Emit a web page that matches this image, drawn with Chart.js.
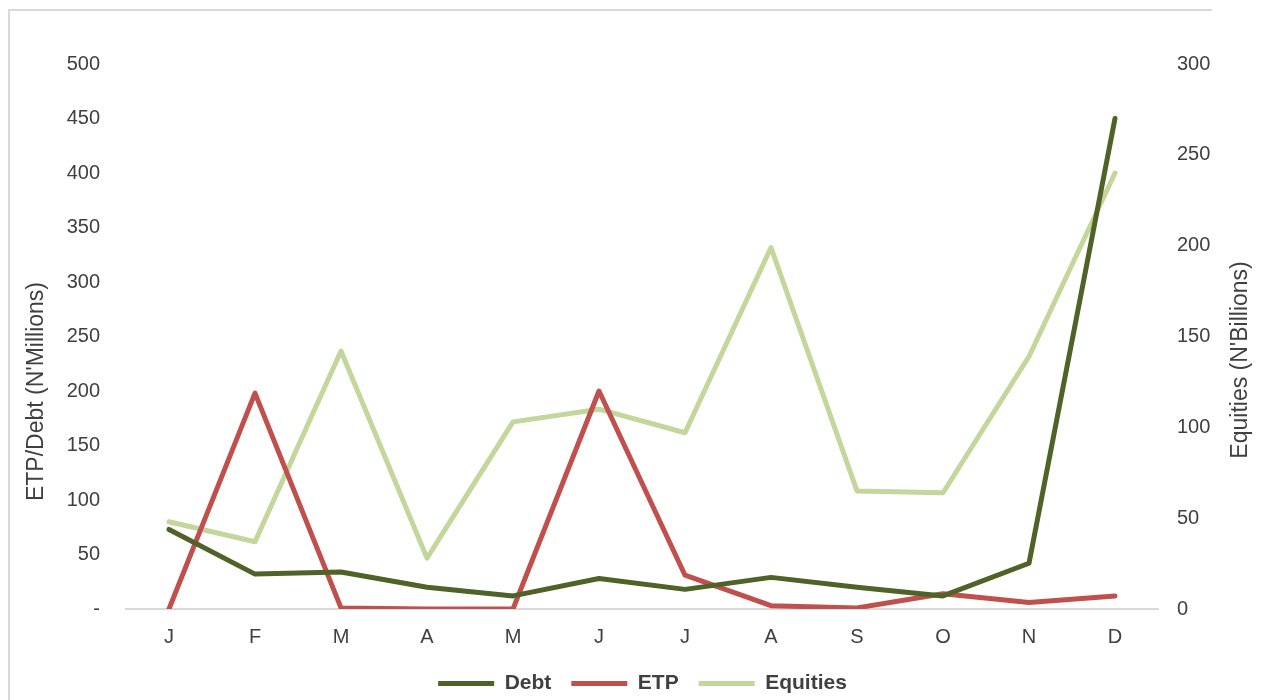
<!DOCTYPE html>
<html>
<head>
<meta charset="utf-8">
<script src="https://cdn.jsdelivr.net/npm/chart.js@4.4.1/dist/chart.umd.min.js"></script>
<style>
  html, body { margin: 0; padding: 0; background: #ffffff; }
  #wrap { position: relative; width: 1263px; height: 700px; overflow: hidden; }
  #frame { position: absolute; left: 8px; top: 9px; width: 1204px; height: 720px;
           border-top: 2px solid #d9d9d9; border-left: 2px solid #d9d9d9; box-sizing: border-box; }
  canvas { position: absolute; left: 0; top: 0; }
</style>
</head>
<body>
<div id="wrap">
  <div id="frame"></div>
  <canvas id="c" width="1263" height="700"></canvas>
</div>
<script>
const months = ['J', 'F', 'M', 'A', 'M', 'J', 'J', 'A', 'S', 'O', 'N', 'D'];
const debt = [73, 32, 34, 20, 12, 28, 18, 29, 20, 12, 42, 450];
const etp = [0, 198, 1, 0, 0, 200, 31, 3, 1, 14, 6, 12];
const equities = [48, 37, 142, 28, 103, 110, 97, 199, 65, 64, 139, 240];
const leftTitle = "ETP/Debt (N'Millions)";
const rightTitle = "Equities (N'Billions)";

const FONT = "'Liberation Sans', Arial, sans-serif";
const TXT = '#404040';

const axisTitles = {
  id: 'axisTitles',
  afterDraw(chart) {
    const ctx = chart.ctx;
    const ca = chart.chartArea;
    ctx.save();
    ctx.fillStyle = TXT;
    ctx.font = '23px ' + FONT;
    ctx.textAlign = 'center';
    ctx.textBaseline = 'middle';
    ctx.save();
    ctx.translate(37, ca.top + (ca.bottom - ca.top) * 0.601);
    ctx.rotate(-Math.PI / 2);
    ctx.fillText(leftTitle, 0, 0);
    ctx.restore();
    ctx.save();
    ctx.translate(1241, ca.top + (ca.bottom - ca.top) * 0.543);
    ctx.rotate(-Math.PI / 2);
    ctx.fillText(rightTitle, 0, 0);
    ctx.restore();
    ctx.restore();
  }
};

const lineStyle = (color) => ({
  borderColor: color,
  backgroundColor: color,
  borderWidth: 5,
  borderCapStyle: 'round',
  borderJoinStyle: 'round',
  pointRadius: 0,
  pointHoverRadius: 0,
  tension: 0,
  fill: false
});

new Chart(document.getElementById('c'), {
  type: 'line',
  data: {
    labels: months,
    datasets: [
      Object.assign({ label: 'Debt', data: debt, yAxisID: 'y' }, lineStyle('#4f6228')),
      Object.assign({ label: 'ETP', data: etp, yAxisID: 'y' }, lineStyle('#c0504d')),
      Object.assign({ label: 'Equities', data: equities, yAxisID: 'y1' }, lineStyle('#c3d69b'))
    ]
  },
  options: {
    responsive: false,
    animation: false,
    devicePixelRatio: 1,
    layout: { padding: { top: 64, left: 22, right: 0, bottom: -4 } },
    plugins: {
      tooltip: { enabled: false },
      legend: {
        position: 'bottom',
        labels: {
          usePointStyle: true,
          pointStyle: 'line',
          pointStyleWidth: 56,
          boxHeight: 21,
          padding: 20,
          color: TXT,
          font: { family: FONT, size: 21, weight: 'bold' }
        }
      }
    },
    scales: {
      x: {
        offset: true,
        grid: { display: false, drawTicks: false },
        border: { display: true, color: '#d9d9d9', width: 2 },
        ticks: { color: TXT, font: { family: FONT, size: 20 }, padding: 16, maxRotation: 0, autoSkip: false },
        afterFit(scale) {
          const lh = scale.chart.legend ? scale.chart.legend.height : 40;
          scale.height = Math.max(0, 700 + 4 - 609 - lh);
        }
      },
      y: {
        position: 'left',
        min: 0, max: 500,
        grid: { display: false, drawTicks: false },
        border: { display: false },
        ticks: {
          stepSize: 50, color: TXT, font: { family: FONT, size: 20 }, padding: 26,
          callback: (v) => v === 0 ? '-' : v
        },
        afterFit(scale) { scale.width = 104; }
      },
      y1: {
        position: 'right',
        min: 0, max: 300,
        grid: { display: false, drawTicks: false },
        border: { display: false },
        ticks: { stepSize: 50, color: TXT, font: { family: FONT, size: 20 }, padding: 19 },
        afterFit(scale) { scale.width = 105; }
      }
    }
  },
  plugins: [axisTitles]
});
</script>
</body>
</html>
